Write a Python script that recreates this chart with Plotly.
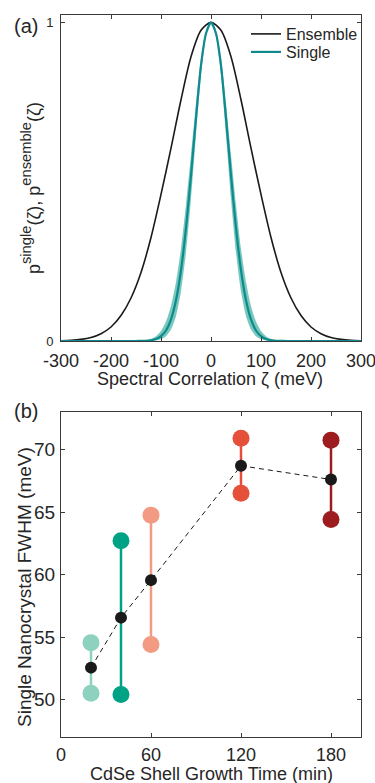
import plotly.graph_objects as go

# ---------------- Panel (a) data ----------------
ens_x = [-300, -280, -260, -240, -220, -200, -180, -160, -140, -120, -100, -80, -60, -40, -20, 0,
         20, 40, 60, 80, 100, 120, 140, 160, 180, 200, 220, 240, 260, 280, 300]
ens_y = [0.001, 0.002, 0.005, 0.011, 0.023, 0.044, 0.08, 0.135, 0.215, 0.325, 0.46, 0.605, 0.757, 0.892, 0.975, 1.0,
         0.975, 0.892, 0.757, 0.605, 0.46, 0.325, 0.215, 0.135, 0.08, 0.044, 0.023, 0.011, 0.005, 0.002, 0.001]

sgl_x = [-300, -150, -140, -130, -120, -110, -100, -90, -80, -70, -60, -50, -40, -30, -20, -10, 0,
         10, 20, 30, 40, 50, 60, 70, 80, 90, 100, 110, 120, 130, 140, 150, 300]
sgl_y = [0.0, 0.0, 0.0003, 0.0008, 0.0024, 0.006, 0.015, 0.033, 0.068, 0.128, 0.222, 0.355, 0.52, 0.70, 0.865, 0.965, 1.0,
         0.965, 0.865, 0.70, 0.52, 0.355, 0.222, 0.128, 0.068, 0.033, 0.015, 0.006, 0.0024, 0.0008, 0.0003, 0.0, 0.0]
sgl_lo = [0.0, 0.0, 0.0, 0.0002, 0.0006, 0.0018, 0.0055, 0.015, 0.036, 0.078, 0.155, 0.278, 0.445, 0.645, 0.835, 0.955, 1.0,
          0.955, 0.835, 0.645, 0.445, 0.278, 0.155, 0.078, 0.036, 0.015, 0.0055, 0.0018, 0.0006, 0.0002, 0.0, 0.0, 0.0]
sgl_hi = [0.0, 0.0004, 0.0011, 0.0029, 0.0068, 0.0152, 0.0315, 0.061, 0.11, 0.185, 0.29, 0.428, 0.585, 0.745, 0.888, 0.972, 1.0,
          0.972, 0.888, 0.745, 0.585, 0.428, 0.29, 0.185, 0.11, 0.061, 0.0315, 0.0152, 0.0068, 0.0029, 0.0011, 0.0004, 0.0]

a_xticks = [-300, -200, -100, 0, 100, 200, 300]
a_yticks = [0, 1]

# ---------------- Panel (b) data ----------------
times = [20, 40, 60, 120, 180]
fwhm_low = [50.5, 50.4, 54.4, 66.5, 64.4]
fwhm_high = [54.55, 62.7, 64.75, 70.9, 70.75]
fwhm_mean = [52.55, 56.55, 59.55, 68.7, 67.6]
time_colors = ['#8fd1bf', '#00a286', '#f39b82', '#e5503a', '#9d1c20']
b_xticks = [0, 60, 120, 180]
b_yticks = [50, 55, 60, 65, 70]

FONT = "Liberation Sans, Arial, Helvetica, sans-serif"
TXT = "#262626"
AX = "#3a3a3a"

fig = go.Figure()

# band for single
fig.add_trace(go.Scatter(x=sgl_x, y=sgl_hi, mode="lines", line=dict(color="rgba(0,0,0,0)", width=0, shape="spline", smoothing=0.6),
                         showlegend=False, hoverinfo="skip", xaxis="x", yaxis="y"))
fig.add_trace(go.Scatter(x=sgl_x, y=sgl_lo, mode="lines", line=dict(color="rgba(0,0,0,0)", width=0, shape="spline", smoothing=0.6),
                         fill="tonexty", fillcolor="rgba(98,190,176,0.85)",
                         showlegend=False, hoverinfo="skip", xaxis="x", yaxis="y"))
fig.add_trace(go.Scatter(x=ens_x, y=ens_y, mode="lines", name="Ensemble", legend="legend",
                         line=dict(color="#1a1a1a", width=1.6, shape="spline", smoothing=0.8), xaxis="x", yaxis="y"))
fig.add_trace(go.Scatter(x=sgl_x, y=sgl_y, mode="lines", name="Single", legend="legend2",
                         line=dict(color="#0f8a8e", width=2.2, shape="spline", smoothing=0.6), xaxis="x", yaxis="y"))

# panel b
for t, lo, hi, c in zip(times, fwhm_low, fwhm_high, time_colors):
    fig.add_trace(go.Scatter(x=[t, t], y=[lo, hi], mode="lines+markers",
                             line=dict(color=c, width=2.5),
                             marker=dict(color=c, size=17, line=dict(width=0)),
                             showlegend=False, xaxis="x2", yaxis="y2"))
fig.add_trace(go.Scatter(x=times, y=fwhm_mean, mode="lines+markers",
                         line=dict(color="#1a1a1a", width=1, dash="5px,4px"),
                         marker=dict(color="#1a1a1a", size=12, line=dict(width=0)),
                         showlegend=False, xaxis="x2", yaxis="y2"))

W, H = 375, 783
def px(x):
    return x / W
def py(y):
    return 1 - y / H

axis_common = dict(showline=True, linecolor=AX, linewidth=1, mirror="ticks", ticks="inside",
                   ticklen=4, tickcolor=AX, tickwidth=1, showgrid=False, zeroline=False,
                   automargin=False, fixedrange=True, ticklabeloverflow="allow",
                   tickfont=dict(family=FONT, size=18, color=TXT))

legend_common = dict(xanchor="left", yanchor="middle", bgcolor="rgba(0,0,0,0)", borderwidth=0,
                     font=dict(family=FONT, size=16, color=TXT), tracegroupgap=0, traceorder="normal")

ylabel_a = ("<span style='font-size:18px'>p</span><sup>single</sup>"
            "<span style='font-size:18px'>(ζ), p</span><sup>ensemble</sup>"
            "<span style='font-size:18px'>(ζ)</span>")

fig.update_layout(
    width=W, height=H,
    margin=dict(l=0, r=0, t=0, b=0, pad=0, autoexpand=False),
    paper_bgcolor="white", plot_bgcolor="white",
    font=dict(family=FONT, color=TXT),
    xaxis=dict(domain=[px(61), px(361)], range=[-300, 300], tickvals=a_xticks,
               ticktext=[str(v) for v in a_xticks], anchor="y", ticklabelstandoff=3, **axis_common),
    yaxis=dict(domain=[py(341), py(15)], range=[0, 1.023], tickvals=a_yticks, anchor="x",
               ticklabelstandoff=4, **{**axis_common, "tickfont": dict(family=FONT, size=13, color=TXT)}),
    xaxis2=dict(domain=[px(61), px(361)], range=[0, 200], tickvals=b_xticks, anchor="y2",
                ticklabelstandoff=1, **axis_common),
    yaxis2=dict(domain=[py(737), py(412)], range=[47, 73], tickvals=b_yticks, anchor="x2",
                ticklabelstandoff=1, **{**axis_common, "tickfont": dict(family=FONT, size=19, color=TXT)}),
    legend=dict(x=px(246), y=py(34), **legend_common),
    legend2=dict(x=px(246), y=py(52), **legend_common),
    showlegend=True,
    annotations=[
        dict(text="(a)", x=px(12), y=py(26), xref="paper", yref="paper", xanchor="left", yanchor="middle",
             showarrow=False, font=dict(family=FONT, size=20, color=TXT)),
        dict(text="(b)", x=px(12), y=py(411), xref="paper", yref="paper", xanchor="left", yanchor="middle",
             showarrow=False, font=dict(family=FONT, size=20, color=TXT)),
        dict(text="Spectral Correlation ζ (meV)", x=px(210), y=py(379), xref="paper", yref="paper",
             xanchor="center", yanchor="middle", showarrow=False, font=dict(family=FONT, size=18, color=TXT)),
        dict(text="CdSe Shell Growth Time (min)", x=px(211), y=py(774), xref="paper", yref="paper",
             xanchor="center", yanchor="middle", showarrow=False, font=dict(family=FONT, size=18, color=TXT)),
        dict(text=ylabel_a,
             x=px(31), y=py(188), xref="paper", yref="paper", textangle=-90,
             xanchor="center", yanchor="middle", showarrow=False, font=dict(family=FONT, size=21, color=TXT)),
        dict(text="Single Nanocrystal FWHM (meV)", x=px(24), y=py(587), xref="paper", yref="paper", textangle=-90,
             xanchor="center", yanchor="middle", showarrow=False, font=dict(family=FONT, size=19, color=TXT)),
    ],
)

fig.write_html("out.html", config={"displayModeBar": False, "responsive": False},
               post_script="document.body.style.margin='0';")
